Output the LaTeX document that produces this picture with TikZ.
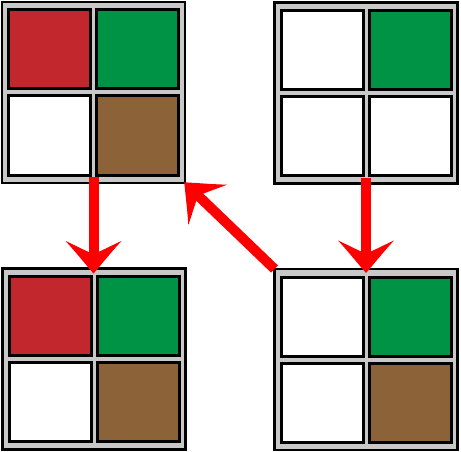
\documentclass[tikz,border=0pt]{standalone}
\usetikzlibrary{arrows.meta}
\definecolor{cred}{HTML}{C1272D}
\definecolor{cgreen}{HTML}{009245}
\definecolor{cbrown}{HTML}{8C6239}
\definecolor{cgray}{HTML}{C8C8C8}
\pgfdeclarearrow{
  name = Wing,
  setup code = {
    \pgfarrowssettipend{0pt}
    \pgfarrowssetlineend{-18pt}
    \pgfarrowssetvisualbackend{-20pt}
    \pgfarrowssetbackend{-33pt}
    \pgfarrowshullpoint{0pt}{0pt}
    \pgfarrowsupperhullpoint{-33pt}{28pt}
  },
  drawing code = {
    \pgfpathmoveto{\pgfqpoint{0pt}{0pt}}
    \pgfpathcurveto{\pgfqpoint{-11pt}{9.5pt}}{\pgfqpoint{-24pt}{20pt}}{\pgfqpoint{-32.5pt}{28pt}}
    \pgfpathcurveto{\pgfqpoint{-29pt}{20pt}}{\pgfqpoint{-23pt}{9pt}}{\pgfqpoint{-19.5pt}{0pt}}
    \pgfpathcurveto{\pgfqpoint{-23pt}{-9pt}}{\pgfqpoint{-29pt}{-20pt}}{\pgfqpoint{-32.5pt}{-28pt}}
    \pgfpathcurveto{\pgfqpoint{-24pt}{-20pt}}{\pgfqpoint{-11pt}{-9.5pt}}{\pgfqpoint{0pt}{0pt}}
    \pgfpathclose
    \pgfusepathqfill
  }
}
\tikzset{
  outerbox/.style={draw=black, fill=cgray, line width=2.5pt, minimum width=183pt, minimum height=181pt, inner sep=0pt, outer sep=0pt},
  cellbox/.style={draw=black, line width=3pt, minimum width=82pt, minimum height=79pt, inner sep=0pt, outer sep=0pt},
  bigarrow/.style={draw=red, line width=10pt, -{Wing}}
}
\newcommand\gridbox[7]{%
  \node[outerbox] (#1) at (#2,#3) {};
  \node[cellbox, fill=#4] (#1a) at (#2-44,#3-43) {};
  \node[cellbox, fill=#5] (#1b) at (#2+44,#3-43) {};
  \node[cellbox, fill=#6] (#1c) at (#2-44,#3+43) {};
  \node[cellbox, fill=#7] (#1d) at (#2+44,#3+43) {};
}
\begin{document}
\begin{tikzpicture}[x=1pt,y=-1pt]
\useasboundingbox (0,0) rectangle (461,452);
\gridbox{tl}{93.5}{92.5}{cred}{cgreen}{white}{cbrown}
\gridbox{tr}{366}{93}{white}{cgreen}{white}{white}
\gridbox{bl}{94}{359}{cred}{cgreen}{white}{cbrown}
\gridbox{br}{366}{359.5}{white}{cgreen}{white}{cbrown}
\draw[bigarrow, shorten <=-6pt, shorten >=-5pt] (tl.south) -- (tl.south |- bl.north);
\draw[bigarrow, shorten <=-6pt, shorten >=-4pt] (tr.south) -- (tr.south |- br.north);
\draw[bigarrow, shorten >=-1pt] (br.north west) -- (tl.south east);
\end{tikzpicture}
\end{document}
